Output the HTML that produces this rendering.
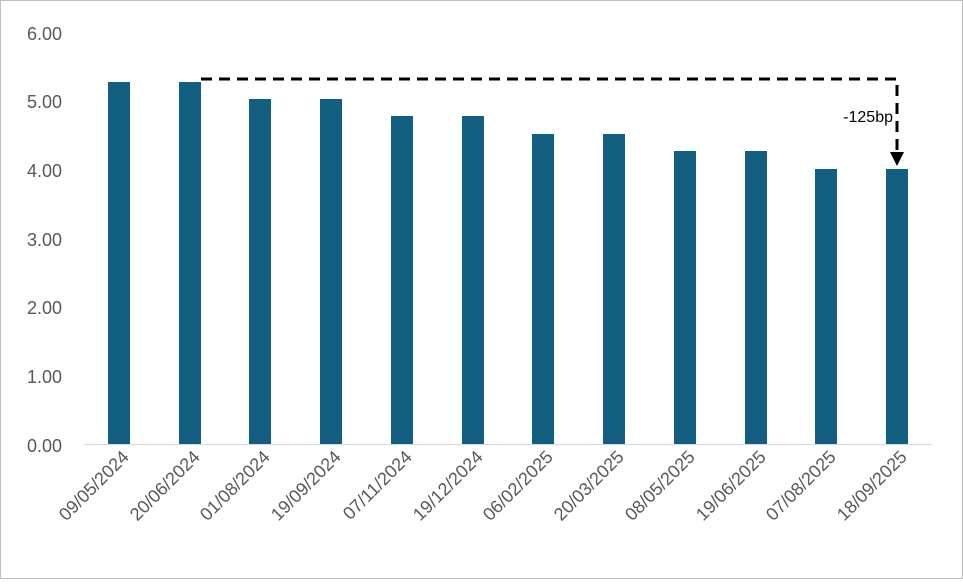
<!DOCTYPE html>
<html><head><style>body{margin:0;background:#fff}</style></head><body>
<svg width="963" height="579" xmlns="http://www.w3.org/2000/svg" font-family="Liberation Sans, sans-serif">
<rect x="0.5" y="0.5" width="962" height="578" fill="#fff" stroke="#bfbfbf"/>
<g fill="#595959" font-size="18" text-anchor="end">
<text x="62" y="40">6.00</text><text x="62" y="108">5.00</text><text x="62" y="177">4.00</text><text x="62" y="246">3.00</text><text x="62" y="314">2.00</text><text x="62" y="383">1.00</text><text x="62" y="452">0.00</text>
</g>
<line x1="84" y1="444.5" x2="932" y2="444.5" stroke="#d9d9d9" stroke-width="1"/>
<g fill="#135f82">
<rect x="108" y="82" width="22" height="362"/>
<rect x="179" y="82" width="22" height="362"/>
<rect x="249" y="99" width="22" height="345"/>
<rect x="320" y="99" width="22" height="345"/>
<rect x="391" y="116" width="22" height="328"/>
<rect x="462" y="116" width="22" height="328"/>
<rect x="532" y="134" width="22" height="310"/>
<rect x="603" y="134" width="22" height="310"/>
<rect x="674" y="151" width="22" height="293"/>
<rect x="745" y="151" width="22" height="293"/>
<rect x="815" y="169" width="22" height="275"/>
<rect x="886" y="169" width="22" height="275"/>
</g>
<g fill="#595959" font-size="18" text-anchor="end">
<text transform="translate(130,458) rotate(-45)">09/05/2024</text>
<text transform="translate(201,458) rotate(-45)">20/06/2024</text>
<text transform="translate(271,458) rotate(-45)">01/08/2024</text>
<text transform="translate(342,458) rotate(-45)">19/09/2024</text>
<text transform="translate(413,458) rotate(-45)">07/11/2024</text>
<text transform="translate(484,458) rotate(-45)">19/12/2024</text>
<text transform="translate(554,458) rotate(-45)">06/02/2025</text>
<text transform="translate(625,458) rotate(-45)">20/03/2025</text>
<text transform="translate(696,458) rotate(-45)">08/05/2025</text>
<text transform="translate(767,458) rotate(-45)">19/06/2025</text>
<text transform="translate(837,458) rotate(-45)">07/08/2025</text>
<text transform="translate(908,458) rotate(-45)">18/09/2025</text>
</g>
<path d="M201 79 H897 V155" fill="none" stroke="#000" stroke-width="3" stroke-dasharray="11,7"/>
<polygon points="890,152 904,152 897,166" fill="#000"/>
<rect x="848" y="104" width="46" height="22" fill="#fff"/>
<text x="893" y="122" font-size="16" text-anchor="end" fill="#000">-125bp</text>
</svg>
</body></html>
